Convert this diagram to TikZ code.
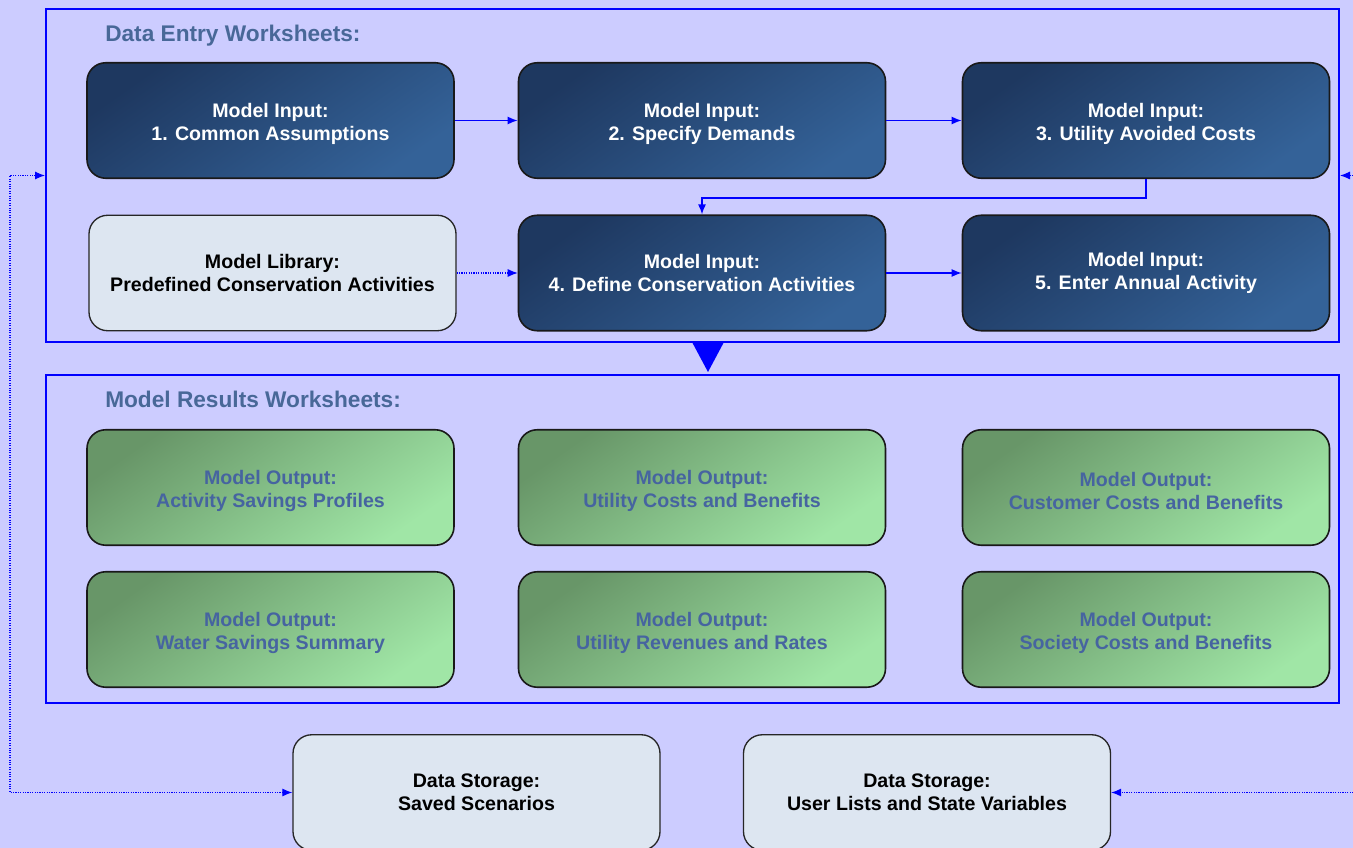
\documentclass[tikz,border=0pt]{standalone}
\usepackage{fontspec}
\setmainfont{Liberation Sans}
\usetikzlibrary{arrows.meta,calc}
\definecolor{bg}{RGB}{204,204,255}
\definecolor{lineblue}{RGB}{0,0,255}
\definecolor{titleblue}{RGB}{72,104,152}
\definecolor{inA}{RGB}{30,56,96}
\definecolor{inB}{RGB}{52,98,152}
\definecolor{outA}{RGB}{104,150,104}
\definecolor{outB}{RGB}{160,230,166}
\definecolor{outtext}{RGB}{70,100,160}
\definecolor{lightfill}{RGB}{221,230,241}
\newcommand{\tstrut}{\rule{0pt}{16pt}}
\begin{document}
\begin{tikzpicture}[x=0.75pt,y=-0.75pt,
  box/.style={rounded corners=14pt, minimum width=275.25pt, minimum height=86.6pt,
    align=center, font=\fontsize{14.7}{17.4}\selectfont\bfseries, line width=1.2pt, inner sep=0pt},
  inbox/.style={box, draw=black!90, top color=inA, bottom color=inB, shading angle=35, text=white},
  outbox/.style={box, draw=black!90, top color=outA, bottom color=outB, shading angle=35, text=outtext},
  libbox/.style={box, draw=black!85, line width=1pt, fill=lightfill, text=black},
  frame/.style={draw=lineblue, line width=1.5pt, inner sep=0pt},
  grptitle/.style={anchor=west, text=titleblue, font=\fontsize{17}{20}\selectfont\bfseries, inner sep=0pt},
  conn/.style={draw=lineblue, line width=1.1pt, -{Latex[length=7.5pt,width=6pt]}},
  dconn/.style={draw=lineblue, line width=0.8pt, densely dotted, {Latex[length=7.5pt,width=6pt]}-{Latex[length=7.5pt,width=6pt]}},
  dconnone/.style={draw=lineblue, line width=0.8pt, densely dotted, -{Latex[length=7.5pt,width=6pt]}}
]
\useasboundingbox (0,0) rectangle (1353,848);
\fill[bg] (0,0) rectangle (1353,848);
\clip (0,0) rectangle (1353,848);

% frames
\node[frame, minimum width=969.75pt, minimum height=249.75pt] (entry) at (692.5,175.5) {};
\node[frame, minimum width=969.75pt, minimum height=246pt] (results) at (692.5,539) {};
\node[grptitle] (t1) at (105,36) {Data Entry Worksheets:};
\node[grptitle] (t2) at (105,399) {Model Results Worksheets:};

% input boxes
\node[inbox] (b1) at (270.5,120.5) {\tstrut Model Input:\\1. Common Assumptions};
\node[inbox] (b2) at (702,120.5) {\tstrut Model Input:\\2. Specify Demands};
\node[inbox] (b3) at (1146,120.5) {\tstrut Model Input:\\3. Utility Avoided Costs};
\node[libbox] (lib) at (272.5,273) {Model Library:\\Predefined Conservation Activities};
\node[inbox] (b4) at (702,273) {Model Input:\\4. Define Conservation Activities};
\node[inbox] (b5) at (1146,273) {Model Input:\\5. Enter Annual Activity};

% output boxes
\node[outbox] (o1) at (270.5,487.5) {\tstrut Model Output:\\Activity Savings Profiles};
\node[outbox] (o2) at (702,487.5) {\tstrut Model Output:\\Utility Costs and Benefits};
\node[outbox] (o3) at (1146,487.5) {\tstrut Model Output:\\Customer Costs and Benefits};
\node[outbox] (o4) at (270.5,629.5) {\tstrut Model Output:\\Water Savings Summary};
\node[outbox] (o5) at (702,629.5) {\tstrut Model Output:\\Utility Revenues and Rates};
\node[outbox] (o6) at (1146,629.5) {\tstrut Model Output:\\Society Costs and Benefits};

% storage boxes
\node[libbox] (saved) at (476.5,792.5) {Data Storage:\\Saved Scenarios};
\node[libbox] (user) at (927,792.5) {Data Storage:\\User Lists and State Variables};

% connectors
\draw[conn] (b1.east) -- (b2.west);
\draw[conn] (b2.east) -- (b3.west);
\draw[conn] (b3.south) -- ++(0,19) -| (b4.north);
\draw[dconnone] (lib.east) -- (b4.west);
\draw[conn] (b4.east) -- (b5.west);

% triangle between groups
\fill[lineblue] (692,342) -- (724,342) -- (708,372) -- cycle;

% storage links
\coordinate (lft) at (10,0);
\coordinate (rgt) at (1380,0);
\draw[dconn] (entry.west) -- (lft |- entry.west) -- (lft |- saved.west) -- (saved.west);
\draw[dconn] (entry.east) -- (rgt |- entry.east) -- (rgt |- user.east) -- (user.east);
\end{tikzpicture}
\end{document}
